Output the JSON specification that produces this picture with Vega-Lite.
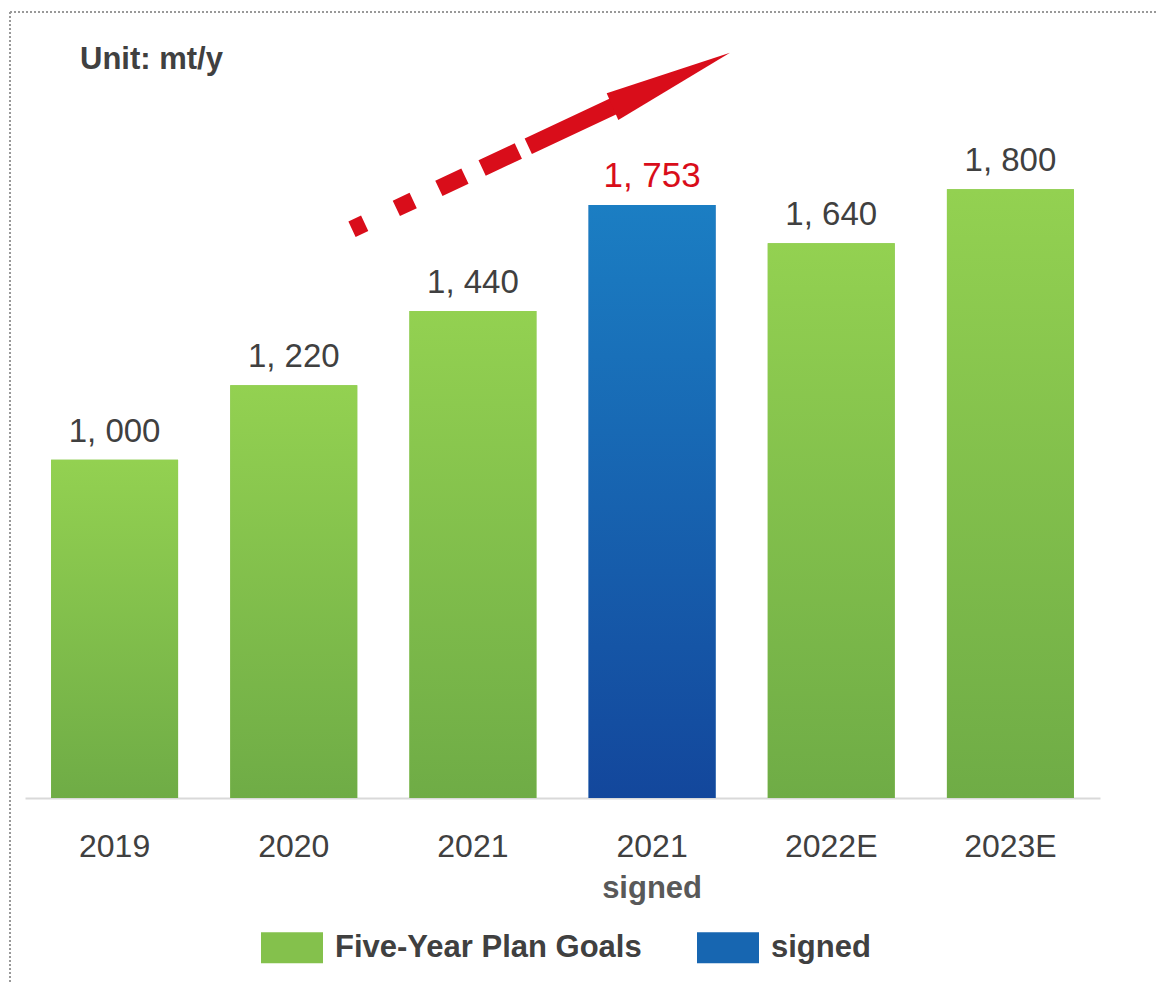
{
  "$schema": "https://vega.github.io/schema/vega-lite/v6.json",
  "width": 1075,
  "height": 778,
  "autosize": "none",
  "padding": {"left": 25, "top": 20, "right": 56, "bottom": 186},
  "background": "#ffffff",
  "config": {"view": {"stroke": null}, "font": "Liberation Sans"},
  "title": {"text": "Unit: mt/y", "anchor": "start", "frame": "group", "orient": "top", "offset": -52, "dx": 55, "dy": 37, "baseline": "alphabetic", "font": "Liberation Sans", "fontSize": 31, "fontWeight": "bold", "color": "#404040"},
  "datasets": {
    "bars": [
      {"cat": "2019", "value": 1000, "series": "Five-Year Plan Goals"},
      {"cat": "2020", "value": 1220, "series": "Five-Year Plan Goals"},
      {"cat": "2021", "value": 1440, "series": "Five-Year Plan Goals"},
      {"cat": "2021 signed", "value": 1753, "series": "signed"},
      {"cat": "2022E", "value": 1640, "series": "Five-Year Plan Goals"},
      {"cat": "2023E", "value": 1800, "series": "Five-Year Plan Goals"}
    ],
    "border": [
      {"x": -0.0837, "x2": 6.3126, "y": 2323.6, "y2": 2323.6},
      {"x": -0.0837, "x2": -0.0837, "y": 2323.6, "y2": -549.9}
    ],
    "shaft": [
      {"x": 1.8251, "y": 1681.5, "x2": 3.2874, "y2": 2045.8}
    ],
    "head": [
      {"x": 3.2791, "y": 2043.7}
    ]
  },
  "layer": [
    {
      "data": {"name": "bars"},
      "transform": [{"calculate": "replace(format(datum.value, ','), ',', ', ')", "as": "label"}],
      "encoding": {
        "x": {
          "field": "cat", "type": "nominal", "sort": null,
          "scale": {"paddingInner": 0.2913, "paddingOuter": 0.1457},
          "axis": {"title": null, "labelExpr": "split(datum.value, ' ')[0]", "labelFont": "Liberation Sans", "labelFontSize": 32, "labelColor": "#404040", "labelAngle": 0, "labelPadding": 33, "ticks": false, "tickSize": 0, "domainColor": "#d9d9d9", "domainWidth": 2, "grid": false}
        },
        "y": {"field": "value", "type": "quantitative", "scale": {"domain": [0, 2300], "nice": false, "zero": true}, "axis": null}
      },
      "layer": [
        {
          "mark": {"type": "bar"},
          "encoding": {
            "fill": {
              "field": "series", "type": "nominal",
              "scale": {"domain": ["Five-Year Plan Goals", "signed"], "range": ["#84C14C", "#1766B1"]},
              "legend": {"title": null, "orient": "none", "legendX": 236, "legendY": 896.5, "direction": "horizontal", "symbolType": "M-1,-0.5H1V0.5H-1Z", "symbolSize": 3844, "symbolStrokeWidth": 0, "symbolOpacity": 1, "labelFont": "Liberation Sans", "labelFontSize": 31, "labelFontWeight": "bold", "labelColor": "#404040", "labelOffset": 12, "labelLimit": 600, "columnPadding": 55, "padding": 0}
            }
          }
        },
        {
          "mark": {"type": "bar"},
          "encoding": {
            "fill": {
              "condition": {"test": "datum.series === 'signed'", "value": {"gradient": "linear", "x1": 0, "y1": 0, "x2": 0, "y2": 1, "stops": [{"offset": 0, "color": "#1B7EC3"}, {"offset": 1, "color": "#13479C"}]}},
              "value": {"gradient": "linear", "x1": 0, "y1": 0, "x2": 0, "y2": 1, "stops": [{"offset": 0, "color": "#93D151"}, {"offset": 1, "color": "#6FAC46"}]}
            }
          }
        },
        {
          "mark": {"type": "text", "baseline": "alphabetic", "dy": -18, "font": "Liberation Sans"},
          "encoding": {
            "text": {"field": "label"},
            "color": {"condition": {"test": "datum.series === 'signed'", "value": "#D90D1A"}, "value": "#404040"},
            "size": {"condition": {"test": "datum.series === 'signed'", "value": 35}, "value": 33}
          }
        },
        {
          "transform": [{"filter": "datum.series === 'signed'"}],
          "mark": {"type": "text", "baseline": "alphabetic", "dy": 100, "font": "Liberation Sans", "fontSize": 31, "fontWeight": "bold", "color": "#595959"},
          "encoding": {
            "y": {"datum": 0},
            "text": {"value": "signed"}
          }
        }
      ]
    },
    {
      "encoding": {
        "x": {"field": "x", "type": "quantitative", "scale": {"domain": [0, 6], "nice": false, "zero": false}, "axis": null},
        "y": {"field": "y", "type": "quantitative", "scale": {"domain": [0, 2300], "nice": false}, "axis": null}
      },
      "layer": [
        {
          "data": {"name": "border"},
          "mark": {"type": "rule", "color": "#999999", "strokeWidth": 2, "strokeDash": [2, 2]},
          "encoding": {"x2": {"field": "x2"}, "y2": {"field": "y2"}}
        },
        {
          "data": {"name": "shaft"},
          "mark": {"type": "rule", "color": "#D90D1A", "strokeWidth": 17, "strokeCap": "butt", "strokeDash": [14, 35, 18.6, 28.4, 28.8, 19, 40, 11, 600, 0]},
          "encoding": {"x2": {"field": "x2"}, "y2": {"field": "y2"}}
        },
        {
          "data": {"name": "head"},
          "mark": {"type": "point", "shape": "M-5.8,-13.4L117.5,-54L5.8,13.4Z", "size": 4, "filled": true, "color": "#D90D1A", "opacity": 1, "strokeWidth": 0},
          "encoding": {}
        }
      ]
    }
  ],
  "resolve": {"scale": {"x": "independent"}}
}
